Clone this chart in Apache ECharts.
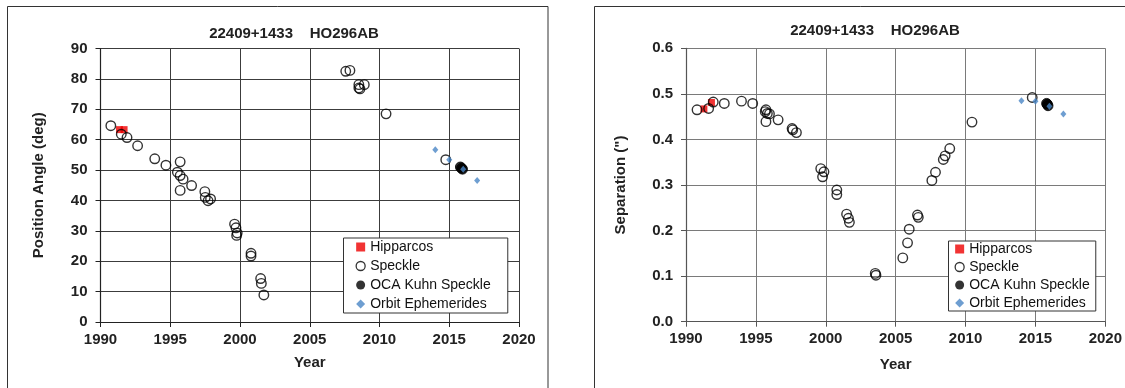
<!DOCTYPE html>
<html>
<head>
<meta charset="utf-8">
<script src="https://cdn.jsdelivr.net/npm/echarts@6/dist/echarts.min.js"></script>
<style>
html,body{margin:0;padding:0;background:#fff;}
#c{width:1125px;height:388px;}
</style>
</head>
<body>
<div id="c"></div>
<script>
// ---------- Data ----------
const chartTitle = '22409+1433    HO296AB';
const seriesNames = ['Hipparcos', 'Speckle', 'OCA Kuhn Speckle', 'Orbit Ephemerides'];

// Position angle (deg)
const paHipYears = [1991.36, 1991.69];
const paHipValues = [63.3, 63.3];
const paSpeckleYears = [1990.74, 1991.49, 1991.90, 1992.66, 1993.89, 1994.69, 1995.71, 1995.51, 1995.71, 1995.92, 1995.71, 1996.53,
  1997.48, 1997.51, 1997.71, 1997.89, 1999.61, 1999.71, 1999.80, 1999.76, 2000.79, 2000.79, 2001.48, 2001.53, 2001.71,
  2007.58, 2007.88, 2008.52, 2008.52, 2008.60, 2008.91, 2010.47, 2014.75];
const paSpeckleValues = [64.6, 61.8, 60.7, 58.0, 53.7, 51.6, 52.7, 49.3, 48.2, 47.0, 43.3, 44.9,
  42.9, 41.0, 39.9, 40.5, 32.2, 31.0, 29.3, 28.5, 22.6, 21.7, 14.3, 12.7, 8.9,
  82.5, 82.8, 78.1, 77.0, 76.7, 78.1, 68.5, 53.4];
const paOcaYears = [2015.80, 2015.88, 2015.95];
const paOcaValues = [51.0, 50.6, 50.3];
const paOrbitYears = [2014.0, 2015.0, 2016.0, 2017.0];
const paOrbitValues = [56.7, 53.4, 50.3, 46.6];

// Separation (arcsec)
const sepHipYears = [1991.28, 1991.82];
const sepHipValues = [0.467, 0.481];
const sepSpeckleYears = [1990.79, 1991.62, 1991.95, 1992.74, 1993.97, 1994.77, 1995.72, 1995.67, 1995.82, 1995.97, 1995.72, 1996.59,
  1997.59, 1997.64, 1997.90, 1999.64, 1999.87, 1999.77, 2000.79, 2000.79, 2001.49, 2001.62, 2001.69,
  2003.54, 2003.59, 2005.51, 2005.85, 2005.97, 2006.56, 2006.62, 2007.59, 2007.85, 2008.41, 2008.54, 2008.87,
  2010.46, 2014.77];
const sepSpeckleValues = [0.465, 0.468, 0.482, 0.479, 0.484, 0.479, 0.465, 0.461, 0.457, 0.456, 0.439, 0.443,
  0.424, 0.421, 0.415, 0.336, 0.329, 0.318, 0.289, 0.279, 0.236, 0.227, 0.218,
  0.106, 0.102, 0.140, 0.173, 0.203, 0.234, 0.229, 0.310, 0.328, 0.356, 0.364, 0.380,
  0.438, 0.492];
const sepOcaYears = [2015.80, 2015.85, 2015.90];
const sepOcaValues = [0.479, 0.477, 0.474];
const sepOrbitYears = [2014.0, 2015.0, 2016.0, 2017.0];
const sepOrbitValues = [0.485, 0.484, 0.473, 0.456];

const yearMin = 1990, yearMax = 2020, yearStep = 5;
const paMin = 0, paMax = 90, paStep = 10;
const sepMin = 0, sepMax = 0.6, sepStep = 0.1;

// ---------- Helpers ----------
function zip(xs, ys) { return xs.map((x, i) => [x, ys[i]]); }
const FONT = '"Liberation Sans", Arial, sans-serif';
const orbitColor = '#4a86c5';

function makeSeries(idx, hipX, hipY, spX, spY, ocaX, ocaY, orX, orY) {
  return [
    { name: seriesNames[0], type: 'scatter', xAxisIndex: idx, yAxisIndex: idx, data: zip(hipX, hipY),
      symbol: 'rect', symbolSize: 7, itemStyle: { color: '#ee0000' }, z: 2 },
    { name: seriesNames[1], type: 'scatter', xAxisIndex: idx, yAxisIndex: idx, data: zip(spX, spY),
      symbol: 'circle', symbolSize: 9.5, itemStyle: { color: 'rgba(255,255,255,0)', borderColor: '#000', borderWidth: 1.4 }, z: 3 },
    { name: seriesNames[2], type: 'scatter', xAxisIndex: idx, yAxisIndex: idx, data: zip(ocaX, ocaY),
      symbol: 'circle', symbolSize: 10, itemStyle: { color: '#000', borderColor: '#000', borderWidth: 1 }, z: 4 },
    { name: seriesNames[3], type: 'scatter', xAxisIndex: idx, yAxisIndex: idx, data: zip(orX, orY),
      symbol: 'diamond', symbolSize: [6, 7], itemStyle: { color: orbitColor }, z: 5 }
  ];
}

function legendData() {
  return [
    { name: seriesNames[0], icon: 'rect', itemStyle: { color: '#ee0000', borderWidth: 0 } },
    { name: seriesNames[1], icon: 'circle', itemStyle: { color: 'rgba(255,255,255,0)', borderColor: '#000', borderWidth: 1.3 } },
    { name: seriesNames[2], icon: 'circle', itemStyle: { color: '#000', borderWidth: 0 } },
    { name: seriesNames[3], icon: 'diamond', itemStyle: { color: orbitColor, borderWidth: 0 } }
  ];
}

function xAxisCfg(gridIndex, nameGap, gridColor, axisColor) {
  return {
    type: 'value', gridIndex: gridIndex, min: yearMin, max: yearMax, interval: yearStep,
    name: 'Year', nameLocation: 'middle', nameGap: nameGap,
    nameTextStyle: { fontFamily: FONT, fontWeight: 'bold', fontSize: 15, color: '#222' },
    axisLine: { show: true, onZero: false, lineStyle: { color: axisColor, width: 1.2 } },
    axisTick: { show: true, inside: false, length: 5, lineStyle: { color: axisColor } },
    axisLabel: { margin: 10, fontFamily: FONT, fontWeight: 'bold', fontSize: 15, color: '#222',
      formatter: v => String(v) },
    splitLine: { show: true, lineStyle: { color: gridColor, width: 1 } }
  };
}

// ---------- Chart ----------
const chart = echarts.init(document.getElementById('c'), null, { renderer: 'canvas' });

const option = {
  backgroundColor: '#fff',
  animation: false,
  title: [
    { text: chartTitle, left: 289, top: 21, textAlign: 'center',
      textStyle: { fontFamily: FONT, fontWeight: 'bold', fontSize: 15, color: '#222' } },
    { text: chartTitle, left: 870, top: 18, textAlign: 'center',
      textStyle: { fontFamily: FONT, fontWeight: 'bold', fontSize: 15, color: '#222' } }
  ],
  grid: [
    { left: 100.5, top: 48.5, width: 418.5, height: 273.5 },
    { left: 686, top: 48.3, width: 420, height: 273.4 }
  ],
  xAxis: [
    xAxisCfg(0, 33, '#3c3c3c', '#222'),
    xAxisCfg(1, 36, '#7a7a7a', '#555')
  ],
  yAxis: [
    { type: 'value', gridIndex: 0, min: paMin, max: paMax, interval: paStep,
      name: 'Position Angle (deg)', nameLocation: 'middle', nameGap: 54, nameRotate: 90,
      nameTextStyle: { fontFamily: FONT, fontWeight: 'bold', fontSize: 15, color: '#222' },
      axisLine: { show: true, onZero: false, lineStyle: { color: '#222', width: 1.2 } },
      axisTick: { show: true, inside: false, length: 5, lineStyle: { color: '#222' } },
      axisLabel: { margin: 13, fontFamily: FONT, fontWeight: 'bold', fontSize: 15, color: '#222' },
      splitLine: { show: true, lineStyle: { color: '#3c3c3c', width: 1 } } },
    { type: 'value', gridIndex: 1, min: sepMin, max: sepMax, interval: sepStep,
      name: 'Separation (")', nameLocation: 'middle', nameGap: 58, nameRotate: 90,
      nameTextStyle: { fontFamily: FONT, fontWeight: 'bold', fontSize: 15, color: '#222' },
      axisLine: { show: true, onZero: false, lineStyle: { color: '#555', width: 1.2 } },
      axisTick: { show: true, inside: false, length: 5, lineStyle: { color: '#555' } },
      axisLabel: { margin: 13, fontFamily: FONT, fontWeight: 'bold', fontSize: 15, color: '#222',
        formatter: v => v.toFixed(1) },
      splitLine: { show: true, lineStyle: { color: '#7a7a7a', width: 1 } } }
  ],
  legend: [
    { orient: 'vertical', left: 343.5, top: 238, data: legendData(),
      itemWidth: 9, itemHeight: 9, itemGap: 5, padding: [2, 17, 2, 12],
      backgroundColor: '#fff', borderColor: '#333', borderWidth: 1, borderRadius: 0,
      selectedMode: false, inactiveColor: '#000',
      textStyle: { fontFamily: FONT, fontSize: 14, color: '#111', lineHeight: 14 } },
    { orient: 'vertical', left: 948.5, top: 241, data: legendData(),
      itemWidth: 9, itemHeight: 9, itemGap: 4, padding: [1, 6, 1, 6],
      backgroundColor: '#fff', borderColor: '#333', borderWidth: 1, borderRadius: 0,
      selectedMode: false, inactiveColor: '#000',
      textStyle: { fontFamily: FONT, fontSize: 14, color: '#111', lineHeight: 14 } }
  ],
  graphic: [
    { type: 'rect', silent: true, z: -10, shape: { x: 7.5, y: 6.5, width: 540.5, height: 400 },
      style: { fill: 'none', stroke: '#333', lineWidth: 1 } },
    { type: 'rect', silent: true, z: -10, shape: { x: 594.5, y: 6.5, width: 560, height: 400 },
      style: { fill: 'none', stroke: '#333', lineWidth: 1 } }
  ],
  series: [].concat(
    makeSeries(0, paHipYears, paHipValues, paSpeckleYears, paSpeckleValues, paOcaYears, paOcaValues, paOrbitYears, paOrbitValues),
    makeSeries(1, sepHipYears, sepHipValues, sepSpeckleYears, sepSpeckleValues, sepOcaYears, sepOcaValues, sepOrbitYears, sepOrbitValues)
  )
};
chart.setOption(option);
</script>
</body>
</html>
